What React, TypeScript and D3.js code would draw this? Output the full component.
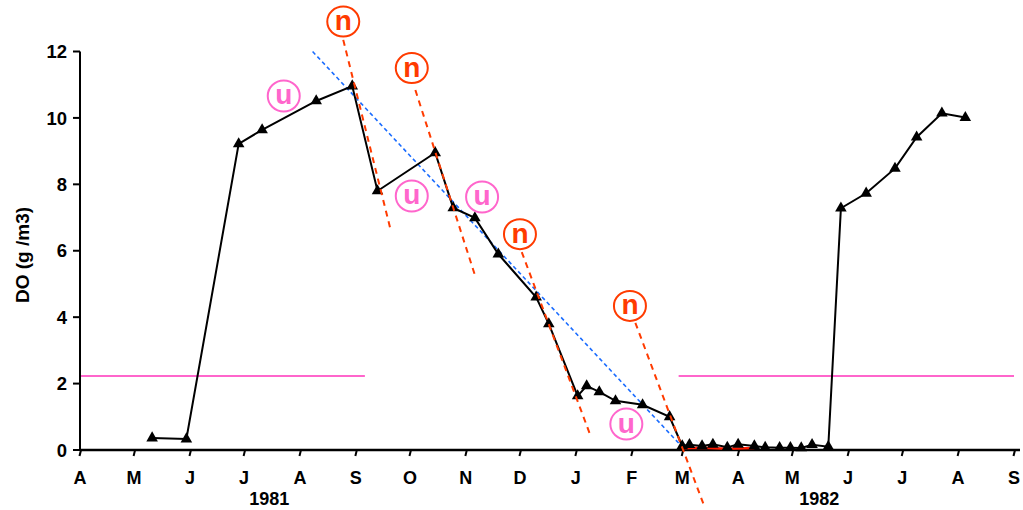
import React from 'react';
import * as d3 from 'd3';

// DO measurements (date, g/m3)
const DO_DATES = [
  '1981-05-11', '1981-05-30', '1981-06-28', '1981-07-11', '1981-08-10', '1981-08-30',
  '1981-09-13', '1981-10-15', '1981-10-25', '1981-11-06', '1981-11-19', '1981-12-10',
  '1981-12-17', '1982-01-02', '1982-01-07', '1982-01-14', '1982-01-23', '1982-02-07',
  '1982-02-22', '1982-03-01', '1982-03-05', '1982-03-12', '1982-03-18', '1982-03-26',
  '1982-04-01', '1982-04-10', '1982-04-16', '1982-04-24', '1982-04-30', '1982-05-06',
  '1982-05-12', '1982-05-21', '1982-05-28', '1982-06-11', '1982-06-27', '1982-07-09',
  '1982-07-23', '1982-08-05',
];
const DO_VALUES = [
  0.36, 0.33, 9.22, 9.64, 10.51, 10.96,
  7.8, 8.95, 7.29, 6.99, 5.9, 4.6,
  3.8, 1.63, 1.93, 1.75, 1.48, 1.36,
  1.0, 0.12, 0.16, 0.12, 0.17, 0.08,
  0.17, 0.12, 0.08, 0.07, 0.07, 0.06,
  0.16, 0.1, 7.28, 7.73, 8.48, 9.42,
  10.14, 10.01,
];

// red series hidden under the winter points
const RED_DATES = ['1982-03-01', '1982-03-12', '1982-03-26', '1982-04-10'];
const RED_VALUES = [0.05, 0.07, 0.04, 0.06];

// 2.2 g/m3 threshold, two pieces
const THRESHOLD = 2.23;
const THRESHOLD_SPANS = [
  ['1981-04-01', '1981-09-06'],
  ['1982-02-27', '1982-09-01'],
];

// overall trend (blue dashed)
const TREND_DATES = ['1981-08-08', '1982-02-28'];
const TREND_VALUES = [12.0, 0.15];

// steep declines (red dashed) and their labels
const DECLINE_DATES = [
  ['1981-08-25', '1981-09-20'],
  ['1981-10-04', '1981-11-06'],
  ['1981-12-02', '1982-01-09'],
  ['1982-02-03', '1982-03-13'],
];
const DECLINE_VALUES = [
  [12.35, 6.69],
  [10.84, 5.27],
  [5.96, 0.45],
  [3.83, -1.66],
];
const N_LABEL_DATES = ['1981-08-25', '1981-10-02', '1981-12-01', '1982-01-31'];
const N_LABEL_VALUES = [12.9, 11.5, 6.5, 4.34];

// plateau labels
const U_LABEL_DATES = ['1981-07-23', '1981-10-02', '1981-11-10', '1982-01-29'];
const U_LABEL_VALUES = [10.66, 7.65, 7.62, 0.78];

const Y_TICKS = [0, 2, 4, 6, 8, 10, 12];
const YEAR_LABELS = ['1981', '1982'];
const YEAR_LABEL_DATES = ['1981-07-15', '1982-05-16'];

const RED = '#ff3b00';
const PINK = '#ff66cc';
const BLUE = '#1a6cff';
const FONT = 'Liberation Sans, Arial, sans-serif';

const parse = d3.timeParse('%Y-%m-%d');
const p = (s: string) => parse(s) as Date;

export default function App() {
  const width = 1023;
  const height = 510;
  const x = d3.scaleTime().domain([p('1981-04-01'), p('1982-09-01')]).range([80, 1014]);
  const y = d3.scaleLinear().domain([0, 12]).range([450, 51.5]);

  const doPoints = DO_DATES.map((d, i) => ({ date: p(d), v: DO_VALUES[i] }));
  const redPoints = RED_DATES.map((d, i) => ({ date: p(d), v: RED_VALUES[i] }));
  const line = d3.line<{ date: Date; v: number }>().x(d => x(d.date)).y(d => y(d.v));
  const tri = d3.symbol().type(d3.symbolTriangle).size(58)();

  const months = d3.timeMonth.range(p('1981-04-01'), p('1982-09-02'));
  const monthFmt = d3.timeFormat('%b');

  return (
    <svg width={width} height={height} style={{ position: 'absolute', left: 0, top: 0, background: '#fff' }}
      fontFamily={FONT}>
      {/* threshold lines */}
      {THRESHOLD_SPANS.map((s, i) => (
        <line key={i} x1={x(p(s[0]))} x2={x(p(s[1]))} y1={y(THRESHOLD)} y2={y(THRESHOLD)}
          stroke={PINK} strokeWidth={2} />
      ))}

      {/* axes */}
      <line x1={x.range()[0]} x2={x.range()[0]} y1={y(12)} y2={y(0)} stroke="#000" strokeWidth={2} />
      <line x1={x.range()[0]} x2={1020} y1={y(0)} y2={y(0)} stroke="#000" strokeWidth={2.4} />
      {Y_TICKS.map(t => (
        <g key={t}>
          <line x1={x.range()[0] - 7} x2={x.range()[0]} y1={y(t)} y2={y(t)} stroke="#000" strokeWidth={2} />
          <text x={67} y={y(t)} dy="0.36em" textAnchor="end" fontSize={18.5} fontWeight="bold">{t}</text>
        </g>
      ))}
      {months.map((m, i) => (
        <g key={i}>
          <line x1={x(m) + 1} x2={x(m) - 0.5} y1={y(0)} y2={y(0) + 6} stroke="#000" strokeWidth={2} />
          <text x={x(m)} y={484} textAnchor="middle" fontSize={18} fontWeight="bold">{monthFmt(m)[0]}</text>
        </g>
      ))}
      {YEAR_LABELS.map((l, i) => (
        <text key={l} x={x(p(YEAR_LABEL_DATES[i]))} y={505} textAnchor="middle" fontSize={18} fontWeight="bold">{l}</text>
      ))}
      <text transform={`translate(29, 255) rotate(-90)`} textAnchor="middle" fontSize={19} fontWeight="bold">
        DO (g /m3)
      </text>

      {/* trend */}
      <path d={line(TREND_DATES.map((d, i) => ({ date: p(d), v: TREND_VALUES[i] })))!} fill="none"
        stroke={BLUE} strokeWidth={1.6} strokeDasharray="4,3" />

      {/* red winter series */}
      <path d={line(redPoints)!} fill="none" stroke="#ff1a00" strokeWidth={2.5} />

      {/* data */}
      <path d={line(doPoints)!} fill="none" stroke="#000" strokeWidth={2} />
      {doPoints.map((d, i) => (
        <path key={i} d={tri!} transform={`translate(${x(d.date)},${y(d.v)})`} fill="#000" />
      ))}

      {/* steep declines */}
      {DECLINE_DATES.map((dd, i) => (
        <path key={i}
          d={line(dd.map((d, j) => ({ date: p(d), v: DECLINE_VALUES[i][j] })))!}
          fill="none" stroke={RED} strokeWidth={2} strokeDasharray="6,5" />
      ))}
      {N_LABEL_DATES.map((d, i) => (
        <g key={i} transform={`translate(${x(p(d))},${y(N_LABEL_VALUES[i])})`}>
          <ellipse rx={16} ry={15} fill="#fff" stroke={RED} strokeWidth={2} />
          <text y={8.5} textAnchor="middle" fontSize={28} fontWeight="bold" fill={RED}>n</text>
        </g>
      ))}
      {U_LABEL_DATES.map((d, i) => (
        <g key={i} transform={`translate(${x(p(d))},${y(U_LABEL_VALUES[i])})`}>
          <ellipse rx={16} ry={15.5} fill="#fff" stroke={PINK} strokeWidth={2} />
          <text y={8.5} textAnchor="middle" fontSize={28} fontWeight="bold" fill={PINK}>u</text>
        </g>
      ))}
    </svg>
  );
}
